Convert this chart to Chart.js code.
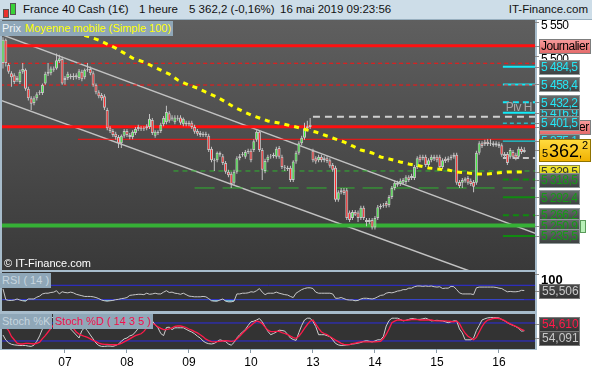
<!DOCTYPE html>
<html lang="fr">
<head>
<meta charset="utf-8">
<title>France 40 Cash (1€) - 1 heure</title>
<script src="https://cdn.jsdelivr.net/npm/chart.js@4.4.1/dist/chart.umd.min.js"></script>
<style>
  html, body { margin: 0; padding: 0; }
  body { position: relative; width: 592px; height: 370px; overflow: hidden; background: #fff;
         font-family: "Liberation Sans", Arial, sans-serif; }
  #entete { position: absolute; left: 0; top: 0; width: 592px; height: 20px; background: #cddde8;
            border-bottom: 1px solid #98afbf; box-sizing: border-box; font-size: 11.5px; color: #111; }
  #entete span { position: absolute; top: 3px; white-space: nowrap; }
  .bougie { position: absolute; border: 1px solid #555; }
  #cadre { position: absolute; left: 0; top: 20px; width: 537px; height: 330px; background: #a7bccb; }
  canvas { position: absolute; left: 0; }
  .boite { position: absolute; height: 15px; line-height: 15px; font-size: 11px; padding: 0 2px;
           background: #8fa7b8; color: #c6d5df; white-space: nowrap; }
</style>
</head>
<body>
<div id="entete">
  <div class="bougie" style="left:3px;top:9px;width:4px;height:7px;background:#e8302c"></div>
  <div class="bougie" style="left:10px;top:3px;width:4px;height:10px;background:#38d238"></div>
  <span style="left:23px">France 40 Cash (1€)</span>
  <span style="left:139px">1 heure</span>
  <span style="left:189px">5 362,2 (-0,16%)</span>
  <span style="left:280px">16 mai 2019 09:23:56</span>
  <span style="right:4px">IT-Finance.com</span>
</div>
<div id="cadre"></div>
<canvas id="prix" width="592" height="250" style="top:20px"></canvas>
<canvas id="rsi" width="592" height="39" style="top:272px"></canvas>
<canvas id="stoch" width="592" height="56" style="top:314px"></canvas>
<div class="boite" style="left:0;top:21px;color:#eef3f6">Prix</div>
<div class="boite" style="left:23px;top:21px;color:#ffff00">Moyenne mobile (Simple 100)</div>
<div style="position:absolute;left:4px;top:257px;font-size:11px;color:#fff">© IT-Finance.com</div>
<div class="boite" style="left:0;top:273px">RSI ( 14 )</div>
<div class="boite" style="left:0;top:314px">Stoch %K</div>
<div class="boite" style="left:53px;top:314px;color:#f0104c">Stoch %D ( 14 3 5 )</div>
<script>
// bougies horaires du 06/05 au 16/05/2019
const ouverture = [
  5490,5524,5487,5475,5472,5465,5462,5477,5480,5452, 5438,5431,5438,5446,5446,5460,5474,5475,5480,5482,
  5493,5496,5465,5468,5471,5469,5469,5468,5477,5469, 5480,5481,5475,5458,5447,5443,5441,5421,5394,5390,
  5386,5381,5372,5383,5390,5384,5381,5387,5393,5394, 5393,5394,5396,5406,5383,5389,5390,5400,5403,5416,
  5410,5403,5409,5410,5400,5402,5402,5402,5396,5390, 5387,5386,5386,5383,5364,5347,5347,5358,5353,5343,
  5330,5327,5314,5330,5350,5355,5352,5359,5361,5362, 5377,5389,5362,5331,5347,5352,5353,5352,5365,5352,
  5337,5336,5336,5318,5345,5358,5372,5380,5394,5396, 5361,5350,5347,5352,5350,5350,5347,5340,5336,5289,
  5300,5303,5303,5270,5262,5271,5270,5262,5277,5259, 5259,5259,5248,5262,5278,5280,5284,5281,5293,5306,
  5314,5312,5314,5315,5322,5321,5321,5337,5352,5352, 5352,5340,5347,5352,5352,5352,5337,5349,5350,5350,
  5352,5355,5315,5314,5317,5321,5317,5315,5314,5358, 5372,5374,5374,5372,5372,5372,5371,5369,5356,5356,
  5352,5359,5355,5352,5364,5359];
const haut = [
  5528,5526,5490,5478,5475,5471,5480,5490,5482,5455, 5441,5441,5447,5450,5460,5477,5490,5485,5485,5504,
  5502,5499,5471,5477,5474,5475,5475,5481,5480,5482, 5490,5485,5478,5460,5450,5446,5444,5424,5397,5393,
  5389,5384,5385,5393,5393,5387,5391,5396,5399,5397, 5397,5400,5415,5409,5391,5391,5402,5412,5427,5419,
  5413,5413,5413,5413,5410,5405,5405,5405,5399,5393, 5390,5389,5389,5386,5367,5350,5360,5360,5356,5346,
  5333,5330,5333,5353,5356,5359,5362,5364,5364,5378, 5391,5391,5365,5349,5355,5356,5358,5367,5368,5355,
  5340,5339,5339,5347,5361,5375,5383,5402,5405,5409, 5364,5353,5355,5355,5353,5353,5350,5343,5339,5303,
  5306,5306,5306,5273,5274,5274,5273,5280,5280,5262, 5262,5262,5265,5281,5283,5284,5287,5296,5309,5317,
  5317,5320,5321,5325,5325,5327,5340,5353,5355,5355, 5355,5350,5355,5355,5355,5355,5350,5352,5353,5355,
  5358,5358,5318,5321,5322,5324,5320,5318,5361,5375, 5375,5377,5378,5378,5375,5375,5374,5372,5359,5359,
  5365,5362,5358,5367,5367,5366];
const bas = [
  5482,5485,5474,5455,5459,5462,5459,5474,5449,5435, 5421,5428,5435,5443,5443,5458,5471,5472,5477,5480,
  5490,5458,5458,5465,5466,5465,5466,5465,5463,5466, 5477,5472,5455,5444,5438,5435,5421,5391,5387,5381,
  5377,5365,5365,5380,5381,5378,5378,5384,5390,5390, 5390,5391,5393,5384,5380,5384,5387,5397,5400,5402,
  5405,5400,5405,5399,5397,5397,5397,5393,5386,5383, 5381,5381,5381,5359,5344,5331,5344,5352,5340,5327,
  5322,5306,5311,5327,5347,5352,5349,5356,5344,5359, 5374,5359,5318,5328,5344,5349,5350,5349,5349,5334,
  5331,5331,5315,5315,5342,5355,5369,5377,5391,5393, 5344,5342,5344,5344,5344,5343,5336,5330,5286,5286,
  5297,5296,5259,5256,5259,5265,5256,5259,5259,5250, 5253,5245,5245,5259,5275,5277,5277,5278,5290,5303,
  5308,5309,5311,5312,5315,5318,5318,5334,5344,5347, 5337,5337,5344,5346,5344,5334,5334,5343,5344,5347,
  5349,5311,5306,5306,5314,5311,5309,5300,5311,5355, 5365,5368,5368,5368,5367,5367,5365,5352,5350,5340,
  5349,5349,5347,5349,5356,5358];
const cloture = [
  5524,5490,5477,5469,5462,5468,5477,5481,5452,5438, 5430,5438,5444,5447,5458,5474,5477,5482,5482,5494,
  5497,5460,5468,5474,5469,5471,5472,5478,5466,5480, 5481,5475,5458,5447,5441,5438,5424,5394,5390,5384,
  5381,5372,5383,5390,5384,5381,5389,5393,5396,5393, 5394,5397,5408,5387,5389,5387,5399,5409,5418,5405,
  5408,5410,5408,5402,5408,5400,5400,5396,5389,5386, 5384,5384,5384,5362,5347,5346,5358,5355,5343,5330,
  5325,5312,5330,5350,5353,5356,5359,5361,5347,5375, 5389,5362,5333,5346,5352,5353,5355,5364,5352,5337,
  5336,5334,5318,5345,5358,5372,5380,5394,5397,5399, 5347,5345,5352,5347,5347,5346,5339,5333,5289,5300,
  5303,5299,5262,5259,5271,5267,5262,5277,5262,5256, 5256,5248,5262,5278,5280,5281,5280,5293,5306,5314,
  5311,5317,5318,5322,5318,5324,5337,5350,5347,5350, 5340,5347,5352,5349,5347,5337,5347,5346,5347,5352,
  5355,5314,5309,5318,5320,5314,5312,5308,5358,5372, 5368,5371,5371,5371,5369,5369,5368,5355,5353,5343,
  5362,5352,5350,5364,5359,5362.2];

// moyenne mobile simple 100 : indice de bougie et valeur
const mmIndice = [22,26,30,34,37,40,43,46,50,53, 56,59,62,66,69,72,76,79,82,85,
  88,91,94,98,101,104,108,111,114,117, 121,124,127,131,134,137,141,144,148,151,
  154,158,161,165,168,172,175,179,182,185];
const mmValeur = [5538,5534,5529.4,5523.6,5517.7,5511.8,5504.5,5497.2,5491.3,5485.4,
  5479.5,5473.7,5464.9,5457.5,5453.1,5447.2,5439.9,5432.6,5425.2,5419.3,
  5413.5,5409.1,5404.7,5401.7,5398.8,5395.9,5391.5,5388.5,5384.1,5379.7,
  5373.8,5368.0,5362.1,5357.7,5351.8,5348.9,5344.5,5341.5,5338.6,5335.7,
  5334.2,5332.7,5329.8,5328.3,5326.9,5326.9,5328.3,5329.8,5329.8,5329.5];

const rsi = [
  60,30,28,28,29,32,29,27,26,32, 32,32,37,40,46,48,48,50,51,55, 46,52,50,49,51,49,45,43,41,39,
  39,39,38,36,33,29,27,26,27,28, 30,31,33,34,36,42,43,44,45,45, 44,48,45,46,48,46,46,51,55,50,
  51,48,47,45,48,44,40,39,38,38, 38,39,38,33,27,26,26,29,32,26, 24,24,26,46,46,48,48,49,52,51,
  55,61,51,44,48,48,48,51,48,46, 44,43,39,36,48,53,58,61,63,63, 61,51,48,48,48,48,48,46,34,34,
  36,33,30,29,29,27,28,32,34,34, 33,32,34,38,42,43,48,50,49,51, 54,55,58,58,62,62,66,68,68,67,
  68,67,68,66,65,66,61,62,62,67, 66,58,49,46,46,46,46,44,63,65, 65,65,65,65,65,64,62,61,56,52,
  53,52,52,53,56,55.506];
const stochK = [
  40,23,14,9,7,6,5,5,5,3, 2,6,19,37,60,80,95,99,98,100, 98,66,66,69,60,50,40,30,55,64,
  54,40,27,13,5,2,2,3,3,2, 5,10,19,27,30,37,40,50,62,74, 82,87,87,87,74,64,45,38,65,66,
  58,64,64,64,64,59,54,50,44,36, 30,20,14,11,10,12,18,24,21,18, 10,6,15,30,41,50,58,72,84,86,
  90,95,84,68,52,41,45,50,56,55, 53,42,30,25,22,48,72,90,96,96, 85,68,41,41,41,38,34,24,12,7,
  5,6,7,8,10,11,13,15,19,21, 19,17,20,24,24,35,70,88,96,96, 96,92,87,89,92,95,94,92,92,94,
  96,92,87,88,89,88,87,84,81,84, 87,87,60,47,24,24,24,30,55,72, 90,94,97,98,98,98,97,92,87,81,
  76,72,68,62,53,54.091];
const stochD = [
  74,66,55,35,24,13,10,10,12,12, 11,10,12,16,28,38,50,62,74,84, 90,89,82,76,70,62,50,43,39,35,
  32,27,22,18,13,10,9,9,8,7.5, 7.5,9,12,17,22,27,33,38,41,44, 52,64,78,79,74,67,62,58,58,60,
  64,69,70,70,68,65,60,56,51,47, 41,34,26,21,18,17,18,19,20,21, 20,19,20,27,36,46,55,64,72,80,
  87,84,78,66,56,51,51,52,52,48, 45,41,36,31,29,36,48,62,75,86, 90,76,62,50,45,41,35,29,23,18,
  12,9,8,8,11,13,15,17,17,17, 17,17,17,18,19,28,42,60,81,86, 90,90,89,89,90,91,92,91,90,90,
  90,90,90,88,87,87,87,87,86,85, 84,87,78,60,46,36,30,24,32,50, 68,82,90,92,95,96,95,92,88,82,
  77,73,69,64,59,54.61];

// jours et indice de la première bougie de chaque jour
const jours = ['07','08','09','10','13','14','15','16'];
const debutJours = [22,44,66,88,110,132,154,176];

// niveaux horizontaux et bougie où ils commencent
const niveaux = [5515.4,5489.6,5457.6,5396.3,5377.8,5411.0,5331.2,5306.2,5250.9,
  5484.5,5458.4,5432.2,5416.9,5401.5,5375.1,5350.4,5318.5,5292.4,5266.2,5235.5];
const niveauxDebut = [-1,-1,-1,-1,26.6,110,60.5,68,-1,
  177.4,177.4,177.4,177.4,177.4,177.4,177.4,177.4,177.4,177.4,177.4];

// canal baissier (deux points par droite)
const canalIndice = [-1.1, 189.5];
const canalHaut = [5532.6, 5238.5];
const canalBas = [5435.6, 5148.1];

// étiquettes de l'axe de droite
const graduations = [5550, 5500];
const journalier = [5515.4, 5396.3];
const pivotHaut = 5416.9;
const etiquettesCyan = [5484.5, 5458.4, 5432.2, 5401.5, 5375.1];
const etiquettesVertes = [5318.5, 5292.4, 5266.2, 5250.9, 5235.5];
const rsiNiveaux = [70, 30];
const stochNiveaux = [80, 20];

const POLICE = '"Liberation Sans", Arial, sans-serif';
Chart.defaults.font.family = POLICE;
Chart.defaults.animation = false;
Chart.defaults.events = [];
Chart.defaults.plugins.legend.display = false;
Chart.defaults.plugins.tooltip.enabled = false;

const rang = cloture.map((_, i) => i);
const fr = (v, d) => v.toFixed(d).replace('.', ',').replace(/^(\d)(\d{3})/, '$1 $2');

// couleur, épaisseur, pointillés de chaque niveau
const styleNiveaux = [
  ['#ff1010', 3, []], ['#ff1010', 1, [4, 3]], ['#ff1010', 1, [4, 3]], ['#ff1010', 3, []], ['#ff1010', 1, []],
  ['#d0d0d0', 2, [7, 5]], ['#2fb42f', 1, [5, 4]], ['#2fb42f', 1, [20, 8]], ['#36b036', 4, []],
  ['#10ecfa', 2, []], ['#10ecfa', 2, []], ['#10ecfa', 2, [6, 4]], ['#10ecfa', 2, []], ['#10ecfa', 1, [4, 3]],
  ['#10ecfa', 1, []], ['#c8c8c8', 2, [6, 4]], ['#108a10', 2, [6, 4]], ['#108a10', 2, []],
  ['#108a10', 2, [6, 4]], ['#108a10', 2, []]
];

// fond des panneaux
const fond = {
  id: 'fond',
  beforeDraw(chart, _args, o) {
    const { ctx, chartArea: a } = chart;
    ctx.save();
    if (o.haut) {
      const g = ctx.createLinearGradient(0, a.top, 0, a.bottom);
      g.addColorStop(0, o.haut);
      g.addColorStop(1, o.bas);
      ctx.fillStyle = g;
    } else {
      ctx.fillStyle = o.couleur;
    }
    ctx.fillRect(a.left, a.top, a.width, a.height);
    ctx.restore();
  }
};

function boite(ctx, x, yc, w, h, c1, c2, bord) {
  const y0 = Math.round(yc - h / 2) + 0.5;
  const g = ctx.createLinearGradient(0, y0, 0, y0 + h);
  g.addColorStop(0, c1);
  g.addColorStop(1, c2);
  ctx.fillStyle = g;
  ctx.fillRect(x + 0.5, y0, w, h);
  ctx.strokeStyle = bord;
  ctx.lineWidth = 1;
  ctx.strokeRect(x + 0.5, y0, w, h);
}

function trait(ctx, yc) {
  ctx.strokeStyle = '#8a8a8a';
  ctx.lineWidth = 1;
  ctx.beginPath();
  ctx.moveTo(535, Math.round(yc) + 0.5);
  ctx.lineTo(539, Math.round(yc) + 0.5);
  ctx.stroke();
}

function axeX(visible) {
  const axe = { type: 'linear', min: -0.35, max: 188.8, offset: false, display: visible };
  if (!visible) return axe;
  return Object.assign(axe, {
    afterBuildTicks: s => { s.ticks = debutJours.map(v => ({ value: v })); },
    afterFit: s => { s.height = 21; },
    ticks: { autoSkip: false, maxRotation: 0, color: '#000', font: { size: 12 }, padding: 2,
             callback: v => jours[debutJours.indexOf(v)] },
    grid: { drawOnChartArea: false, tickLength: 4, color: '#8a9aa6' },
    border: { display: false }
  });
}

const options = (x, y, fondOpts) => ({
  responsive: false,
  devicePixelRatio: 1,
  layout: { padding: { left: 2, right: 57, top: 0, bottom: 0 } },
  scales: { x, y },
  plugins: { fond: fondOpts }
});

// étiquettes du panneau des prix
const etiquettesPrix = {
  id: 'etiquettesPrix',
  afterDraw(chart) {
    const ctx = chart.ctx;
    const px = v => chart.scales.y.getPixelForValue(v);
    ctx.save();
    ctx.font = '12px ' + POLICE;
    ctx.letterSpacing = '-0.5px';
    ctx.textBaseline = 'middle';

    graduations.forEach(v => {
      trait(ctx, px(v));
      ctx.fillStyle = '#000';
      ctx.fillText(fr(v, 0), 541, px(v) + 4);
    });

    ctx.fillStyle = '#a8a8a8';
    ctx.textAlign = 'right';
    ctx.fillText('Piv H', 532, px(pivotHaut) - 5);
    ctx.textAlign = 'left';

    // ordre de superposition des étiquettes
    const pile = [['j', journalier[0]], ['c', pivotHaut], ...etiquettesCyan.slice(0, 3).map(v => ['c', v]),
      ['j', journalier[1]], ...etiquettesCyan.slice(3).map(v => ['c', v]),
      ['m', mmValeur[mmValeur.length - 1]], ...etiquettesVertes.map(v => ['v', v])];

    pile.forEach(([t, v]) => {
      const yc = px(v);
      trait(ctx, yc);
      if (t === 'j') {
        boite(ctx, 539, yc, 51, 14, '#f79c9c', '#e46a6a', '#7d7d7d');
        ctx.fillStyle = '#000';
        ctx.fillText('Journalier', 541, yc + 1);
        return;
      }
      if (t === 'm') {
        boite(ctx, 539, yc, 40, 14, '#f4ea3a', '#d6c600', '#8d8a40');
        ctx.fillStyle = '#333';
      } else {
        boite(ctx, 539, yc, 40, 14, '#666c6c', '#3c4040', '#8f9898');
        ctx.fillStyle = t === 'c' ? '#25e6f5' : '#169a16';
      }
      ctx.fillText(fr(v, 1), 541, yc + 1);
      if (v === niveaux[8]) {
        ctx.fillStyle = '#b8f0b8';
        ctx.fillRect(580, Math.round(yc) - 6, 5, 12);
        ctx.strokeStyle = '#5a9a5a';
        ctx.strokeRect(580.5, Math.round(yc) - 5.5, 5, 12);
      }
    });

    // dernier cours
    const cours = cloture[cloture.length - 1];
    const yc = px(cours);
    trait(ctx, yc);
    boite(ctx, 539, yc, 51, 22, '#ffdc40', '#f0b000', '#8f7300');
    const [mil, reste] = fr(cours, 1).split(' ');
    const [ent, dec] = reste.split(',');
    ctx.letterSpacing = '0px';
    ctx.textBaseline = 'alphabetic';
    ctx.fillStyle = '#000';
    ctx.font = '11px ' + POLICE;
    ctx.fillText(mil, 542, yc + 7);
    ctx.font = '18px ' + POLICE;
    ctx.fillText(ent, 549, yc + 7);
    const w = ctx.measureText(ent).width;
    ctx.font = '11px ' + POLICE;
    ctx.fillText(',', 549 + w, yc + 7);
    ctx.fillText(dec, 552 + w, yc - 1);
    ctx.restore();
  }
};

new Chart(document.getElementById('prix'), {
  type: 'bar',
  data: {
    datasets: [
      { type: 'line', data: mmIndice.map((x, k) => ({ x, y: mmValeur[k] })), borderColor: '#ffff00',
        borderWidth: 3, borderDash: [5, 5], pointRadius: 0, order: 0 },
      { data: rang.map(i => ({ x: i, y: [Math.min(ouverture[i], cloture[i]), Math.max(ouverture[i], cloture[i])] })),
        backgroundColor: rang.map(i => cloture[i] >= ouverture[i] ? '#3cf03c' : '#ff2a2a'),
        borderColor: '#c4c4c4', borderWidth: 1, borderSkipped: false, barThickness: 3,
        inflateAmount: 0, grouped: false, order: 1 },
      { data: rang.map(i => ({ x: i, y: [bas[i], haut[i]] })), backgroundColor: '#c4c4c4',
        barThickness: 1, inflateAmount: 0, grouped: false, order: 2 },
      ...niveaux.map((p, k) => ({
        type: 'line', data: [{ x: niveauxDebut[k], y: p }, { x: 190, y: p }],
        borderColor: styleNiveaux[k][0], borderWidth: styleNiveaux[k][1], borderDash: styleNiveaux[k][2],
        pointRadius: 0, order: 3
      })),
      ...[canalHaut, canalBas].map(c => ({
        type: 'line', data: canalIndice.map((x, k) => ({ x, y: c[k] })),
        borderColor: '#c2c2c2', borderWidth: 1.5, pointRadius: 0, order: 4
      }))
    ]
  },
  options: options(axeX(false), { min: 5185.6, max: 5553.2, display: false }, { haut: '#5f5f5f', bas: '#393939' }),
  plugins: [fond, etiquettesPrix]
});

// panneau RSI
new Chart(document.getElementById('rsi'), {
  type: 'line',
  data: {
    datasets: [
      { data: rang.map(i => ({ x: i, y: rsi[i] })), borderColor: '#c8c8c8', borderWidth: 1, pointRadius: 0,
        fill: { target: { value: rsiNiveaux[1] }, above: 'rgba(0,0,0,0)', below: '#62aed6' }, order: 0 },
      ...rsiNiveaux.map(v => ({ data: [{ x: -1, y: v }, { x: 190, y: v }], borderColor: '#2d2de0',
        borderWidth: 1, pointRadius: 0, order: 1 }))
    ]
  },
  options: options(axeX(false), { min: -1.4, max: 106.9, display: false }, { couleur: '#333333' }),
  plugins: [fond, {
    id: 'etiquettesRsi',
    afterDraw(chart) {
      const ctx = chart.ctx;
      const px = v => chart.scales.y.getPixelForValue(v);
      const der = rsi[rsi.length - 1];
      ctx.save();
      ctx.textBaseline = 'middle';
      trait(ctx, px(100));
      ctx.fillStyle = '#000';
      ctx.font = 'bold 13px ' + POLICE;
      ctx.fillText('100', 541, px(100) + 6);
      trait(ctx, px(der));
      boite(ctx, 539, px(der), 40, 14, '#4a4a4a', '#333', '#7a7a7a');
      ctx.fillStyle = '#c8c8c8';
      ctx.font = '12px ' + POLICE;
      ctx.fillText(fr(der, 3), 542, px(der) + 1);
      ctx.restore();
    }
  }]
});

// panneau stochastique
new Chart(document.getElementById('stoch'), {
  type: 'line',
  data: {
    datasets: [
      { data: rang.map(i => ({ x: i, y: stochD[i] })), borderColor: '#ff1a4a', borderWidth: 1.3, pointRadius: 0, order: 0 },
      { data: rang.map(i => ({ x: i, y: stochK[i] })), borderColor: '#cfcfcf', borderWidth: 1, pointRadius: 0, order: 1 },
      ...stochNiveaux.map(v => ({ data: [{ x: -1, y: v }, { x: 190, y: v }], borderColor: '#2d2de0',
        borderWidth: 1, pointRadius: 0, order: 2 }))
    ]
  },
  options: options(axeX(true), { min: -6.7, max: 110, display: false }, { couleur: '#333333' }),
  plugins: [fond, {
    id: 'etiquettesStoch',
    afterDraw(chart) {
      const ctx = chart.ctx;
      const px = v => chart.scales.y.getPixelForValue(v);
      const d = stochD[stochD.length - 1], k = stochK[stochK.length - 1];
      ctx.save();
      ctx.textBaseline = 'middle';
      ctx.font = '12px ' + POLICE;
      trait(ctx, px(d) - 7);
      boite(ctx, 539, px(d) - 7, 40, 14, '#4a4a4a', '#333', '#7a7a7a');
      ctx.fillStyle = '#ff1a4a';
      ctx.fillText(fr(d, 3), 542, px(d) - 6);
      trait(ctx, px(k) + 7);
      boite(ctx, 539, px(k) + 7, 40, 14, '#4a4a4a', '#333', '#7a7a7a');
      ctx.fillStyle = '#c8c8c8';
      ctx.fillText(fr(k, 3), 542, px(k) + 8);
      ctx.restore();
    }
  }]
});
</script>
</body>
</html>
